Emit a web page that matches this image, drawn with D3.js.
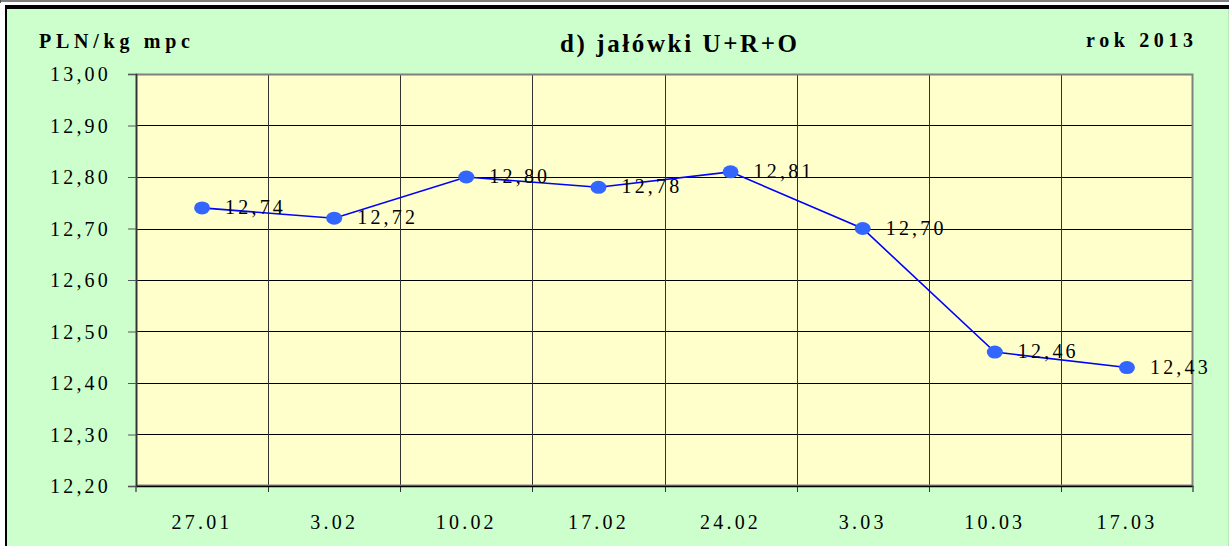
<!DOCTYPE html>
<html><head><meta charset="utf-8">
<script src="https://cdn.jsdelivr.net/npm/d3@7"></script>
<style>html,body{margin:0;padding:0;background:#fff;overflow:hidden}</style>
</head><body>
<svg id="c" width="1229" height="546"></svg>
<script>
const categories = ["27.01","3.02","10.02","17.02","24.02","3.03","10.03","17.03"];
const values = [12.74, 12.72, 12.80, 12.78, 12.81, 12.70, 12.46, 12.43];
const yTicks = [12.2,12.3,12.4,12.5,12.6,12.7,12.8,12.9,13.0];
const title = "d) jałówki U+R+O";
const yTitle = "PLN/kg mpc";
const yearLabel = "rok 2013";

const W = 1229, H = 546;
const svg = d3.select("#c");
const m = {l:136, r:1193, t:74, b:486};
const fmt = v => d3.format(".2f")(v).replace(".", ",");
const serif = "'Liberation Serif', 'Times New Roman', serif";

// frame
svg.append("rect").attr("x",0).attr("y",0).attr("width",W).attr("height",H).attr("fill","#fff");
svg.append("line").attr("x1",0).attr("x2",W).attr("y1",1).attr("y2",1).attr("stroke","#555").attr("stroke-width",1.5);
svg.append("line").attr("x1",0.5).attr("x2",0.5).attr("y1",0).attr("y2",3).attr("stroke","#555");
svg.append("rect").attr("x",5).attr("y",5).attr("width",W-5).attr("height",4).attr("fill","#000");
svg.append("rect").attr("x",5).attr("y",5).attr("width",2).attr("height",H-5).attr("fill","#000");
svg.append("rect").attr("x",7).attr("y",9).attr("width",W-7).attr("height",H-9).attr("fill","#CCFFCC");
svg.append("line").attr("x1",W-0.5).attr("x2",W-0.5).attr("y1",9).attr("y2",H).attr("stroke","#b8e8b8");

const x = d3.scaleBand().domain(categories).range([m.l, m.r]).padding(0);
const y = d3.scaleLinear().domain([12.2, 13.0]).range([m.b, m.t]);

// plot area
svg.append("rect").attr("x",m.l).attr("y",m.t).attr("width",m.r-m.l).attr("height",m.b-m.t).attr("fill","#FFFFCC");

// horizontal grid
svg.append("g").selectAll("line").data(yTicks.slice(1,-1)).join("line")
  .attr("x1",m.l).attr("x2",m.r)
  .attr("y1",d=>Math.round(y(d))+0.5).attr("y2",d=>Math.round(y(d))+0.5)
  .attr("stroke","#000").attr("stroke-width",1);
// vertical grid
const bounds = categories.slice(1).map(c => x(c));
svg.append("g").selectAll("line").data(bounds).join("line")
  .attr("x1",d=>Math.round(d)+0.5).attr("x2",d=>Math.round(d)+0.5)
  .attr("y1",m.t).attr("y2",m.b+6)
  .attr("stroke","#333").attr("stroke-width",1);

// border
svg.append("rect").attr("x",m.l+0.5).attr("y",m.t+0.5).attr("width",m.r-m.l-1).attr("height",m.b-m.t-1)
  .attr("fill","none").attr("stroke","#808080").attr("stroke-width",2);

// y axis
const yAxis = d3.axisLeft(y).tickValues(yTicks).tickSize(8).tickPadding(17).tickFormat(fmt);
const gy = svg.append("g").attr("transform",`translate(${m.l},0)`).call(yAxis);
gy.select(".domain").attr("stroke","#333").attr("stroke-width",1.5);
gy.selectAll(".tick line").attr("stroke","#555");
gy.selectAll("text").attr("font-family",serif)
  .attr("font-size",20).attr("letter-spacing","3.2px").attr("fill","#000").attr("dy","0.33em");

// x axis
const xAxis = d3.axisBottom(x).tickSize(0).tickPadding(29);
const gx = svg.append("g").attr("transform",`translate(0,${m.b})`).call(xAxis);
gx.select(".domain").attr("stroke","#000").attr("stroke-width",1.5);
gx.selectAll("text").attr("font-family",serif)
  .attr("font-size",20).attr("letter-spacing","3.2px").attr("fill","#000");
// end tick marks
svg.append("g").selectAll("line").data([m.l, m.r]).join("line")
  .attr("x1",d=>d).attr("x2",d=>d).attr("y1",m.b).attr("y2",m.b+6)
  .attr("stroke","#555").attr("stroke-width",1.5);

// line
const cx = c => x(c) + x.bandwidth()/2;
svg.append("path").datum(values)
  .attr("d", d3.line().x((d,i)=>cx(categories[i])).y(d=>y(d)))
  .attr("fill","none").attr("stroke","#0000FF").attr("stroke-width",1.6);

svg.append("g").selectAll("ellipse").data(values).join("ellipse")
  .attr("cx",(d,i)=>cx(categories[i])).attr("cy",d=>y(d))
  .attr("rx",8).attr("ry",6.5).attr("fill","#3366FF");

svg.append("g").selectAll("text").data(values).join("text")
  .attr("x",(d,i)=>cx(categories[i])+23).attr("y",d=>y(d)+6)
  .attr("font-family",serif)
  .attr("font-size",20).attr("letter-spacing","3.2px").attr("fill","#000")
  .text(fmt);

// titles
svg.append("text").attr("x",560).attr("y",52).attr("textLength",237).attr("lengthAdjust","spacing")
  .attr("font-family",serif).attr("font-weight","bold")
  .attr("font-size",25).attr("fill","#000").text(title);
svg.append("text").attr("x",39).attr("y",48).attr("textLength",151).attr("lengthAdjust","spacing")
  .attr("font-family",serif).attr("font-weight","bold")
  .attr("font-size",20).attr("fill","#000").text(yTitle);
svg.append("text").attr("x",1086).attr("y",47).attr("textLength",107).attr("lengthAdjust","spacing")
  .attr("font-family",serif).attr("font-weight","bold")
  .attr("font-size",20).attr("fill","#000").text(yearLabel);
</script>
</body></html>
